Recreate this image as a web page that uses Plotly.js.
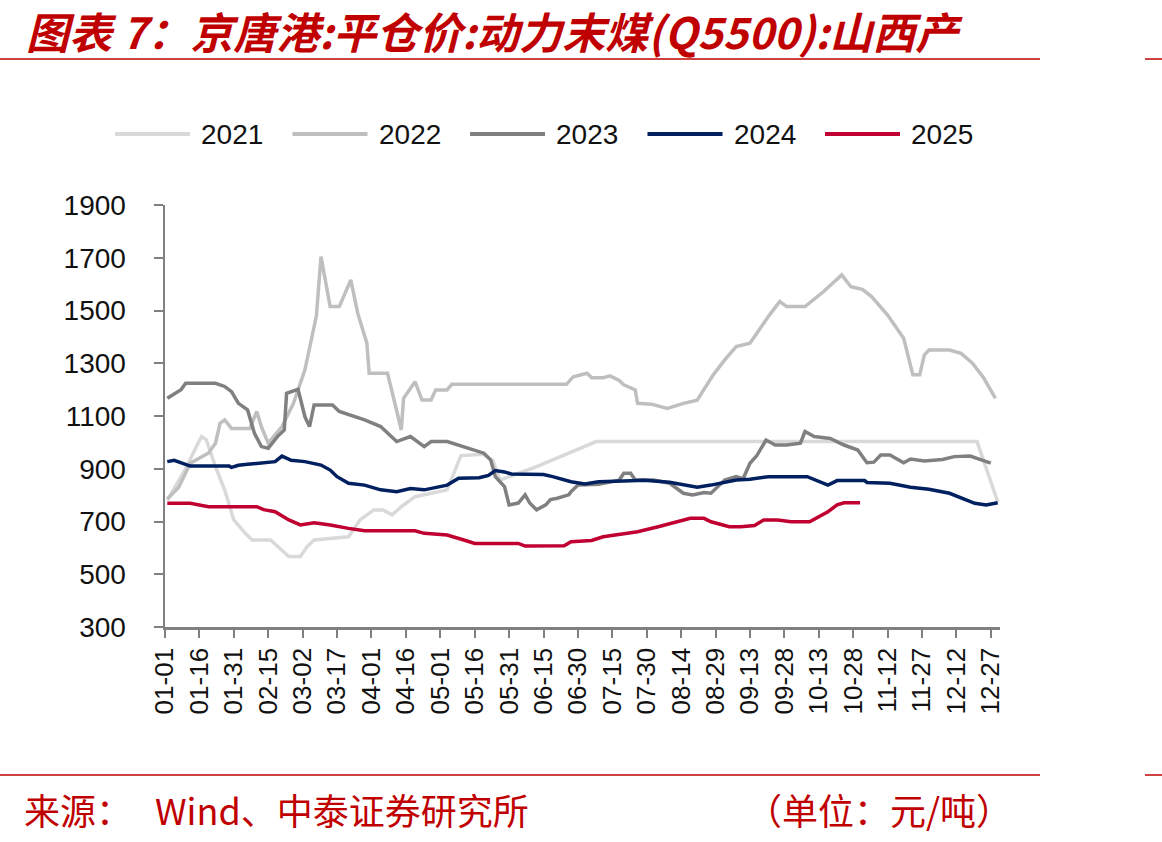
<!DOCTYPE html>
<html>
<head>
<meta charset="utf-8">
<script src="https://cdn.plot.ly/plotly-3.0.1.min.js"></script>
<style>html,body{margin:0;padding:0;background:#fff;}#chart{width:1162px;height:842px;}</style>
</head>
<body>
<div id="chart"></div>
<script>
// ---- data (MM-DD dates, values in 元/吨) ----
const seriesNames = ["2021", "2022", "2023", "2024", "2025"];
const seriesColors = ["#d9d9d9", "#bfbfbf", "#808080", "#002060", "#c00030"];

const dates2021 = ["01-02","01-10","01-15","01-17","01-19","01-23","01-27","01-31","02-05","02-08","02-16","02-21","02-24","03-01","03-04","03-07","03-22","03-27","04-02","04-06","04-10","04-14","04-20","05-04","05-10","05-20","05-24","05-27","06-12","07-08","12-21","12-30"];
const values2021 = [780,900,990,1022,1010,908,820,706,655,630,630,592,567,567,605,630,642,706,744,744,725,756,794,820,950,955,930,857,908,1003,1003,775];

const dates2022 = ["01-02","01-07","01-12","01-20","01-23","01-25","01-27","01-30","02-07","02-10","02-12","02-15","02-21","02-26","03-03","03-06","03-08","03-10","03-14","03-18","03-23","03-26","03-30","03-31","04-08","04-12","04-14","04-15","04-20","04-23","04-27","04-29","05-04","05-06","06-25","06-28","07-04","07-06","07-11","07-14","07-18","07-20","07-25","07-26","08-01","08-08","08-15","08-21","08-24","08-28","09-02","09-07","09-13","09-21","09-26","09-29","10-07","10-15","10-23","10-27","11-01","11-05","11-12","11-19","11-23","11-26","11-28","11-30","12-09","12-14","12-19","12-24","12-29"];
const values2022 = [785,830,921,960,997,1072,1085,1053,1053,1117,1060,997,1060,1148,1275,1401,1480,1704,1515,1515,1616,1490,1376,1262,1262,1120,1047,1167,1230,1161,1161,1199,1199,1220,1220,1249,1262,1245,1245,1252,1235,1218,1199,1148,1145,1129,1148,1160,1199,1256,1313,1363,1376,1477,1534,1515,1515,1571,1635,1590,1580,1553,1483,1395,1256,1256,1331,1350,1350,1338,1300,1243,1167];

const dates2023 = ["01-02","01-05","01-08","01-10","01-23","01-27","01-30","02-02","02-06","02-09","02-12","02-15","02-19","02-22","02-23","02-28","03-03","03-05","03-07","03-15","03-18","03-29","04-05","04-12","04-18","04-24","04-27","05-04","05-09","05-20","05-23","05-25","05-29","05-31","06-04","06-07","06-09","06-12","06-16","06-18","06-21","06-26","06-27","06-30","07-09","07-18","07-20","07-23","07-25","08-02","08-09","08-15","08-19","08-24","08-27","09-02","09-07","09-10","09-13","09-16","09-20","09-24","09-29","10-05","10-07","10-11","10-18","10-24","10-30","11-03","11-06","11-09","11-13","11-19","11-22","11-28","12-06","12-11","12-18","12-22","12-27"];
const values2023 = [1167,1185,1200,1224,1224,1212,1192,1148,1123,1034,984,978,1022,1047,1186,1201,1097,1060,1142,1142,1117,1085,1060,1003,1022,984,1003,1003,990,959,933,870,832,763,770,801,770,744,763,783,788,801,813,838,841,857,883,883,857,857,845,807,801,810,807,857,870,862,921,950,1009,990,990,997,1041,1022,1015,990,971,923,925,952,952,923,937,929,935,946,948,937,921];

const dates2024 = ["01-02","01-05","01-12","01-29","01-30","02-02","02-06","02-18","02-21","02-25","03-03","03-10","03-14","03-17","03-22","03-29","04-05","04-12","04-18","04-24","05-04","05-09","05-18","05-22","05-25","05-29","06-01","06-15","06-19","06-27","07-03","07-09","07-20","07-29","08-09","08-15","08-21","08-27","09-02","09-07","09-13","09-21","10-08","10-11","10-17","10-21","11-02","11-03","11-13","11-22","11-30","12-09","12-15","12-20","12-25","12-30"];
const values2024 = [927,932,910,910,905,913,917,927,948,932,927,914,895,870,845,838,820,813,825,820,838,864,866,875,893,888,880,878,870,851,842,851,854,856,849,838,830,838,849,857,860,870,870,860,838,855,855,848,845,830,822,807,788,769,763,771];

const dates2025 = ["01-02","01-12","01-20","02-10","02-13","02-18","02-24","03-01","03-07","03-14","03-22","03-29","04-20","04-24","05-04","05-07","05-12","05-16","06-04","06-07","06-24","06-27","07-06","07-11","07-26","08-04","08-12","08-18","08-24","08-27","09-04","09-09","09-15","09-19","09-25","10-01","10-09","10-14","10-17","10-21","10-24","10-31"];
const values2025 = [769,769,756,756,745,737,706,687,695,687,674,665,665,655,649,642,628,617,617,607,608,623,628,642,661,680,699,712,712,699,680,680,685,706,706,699,699,721,737,763,771,771];

const yTickValues = [300, 500, 700, 900, 1100, 1300, 1500, 1700, 1900];

const titleText = "图表 7：京唐港:平仓价:动力末煤(Q5500):山西产";
const sourceLabel = "来源：";
const sourceText = "Wind、中泰证券研究所";
const unitText = "（单位：元/吨）";

// ---- build ----
const allDates = [dates2021, dates2022, dates2023, dates2024, dates2025];
const allValues = [values2021, values2022, values2023, values2024, values2025];
const baseYear = "2021-"; // common calendar used only to place MM-DD on one axis

const W = 1162, H = 842;
const M = {l: 165, r: 162, t: 205, b: 215};
const PW = W - M.l - M.r, PH = H - M.t - M.b;
const px = x => (x - M.l) / PW;
const py = y => (H - M.b - y) / PH;

const traces = seriesNames.map((name, i) => ({
  type: "scatter",
  mode: "lines",
  name: name,
  x: allDates[i].map(d => baseYear + d),
  y: allValues[i],
  line: {color: seriesColors[i], width: 3.5},
  hoverinfo: "skip"
}));

const red = "#c00000";
const shapes = [
  {type: "line", xref: "paper", yref: "paper", x0: px(0), x1: px(1040), y0: py(59), y1: py(59), line: {color: red, width: 1.5}},
  {type: "line", xref: "paper", yref: "paper", x0: px(1145), x1: px(1162), y0: py(59), y1: py(59), line: {color: red, width: 1.5}},
  {type: "line", xref: "paper", yref: "paper", x0: px(0), x1: px(1040), y0: py(775), y1: py(775), line: {color: red, width: 1.5}},
  {type: "line", xref: "paper", yref: "paper", x0: px(1145), x1: px(1162), y0: py(775), y1: py(775), line: {color: red, width: 1.5}}
];
const annotations = [
  {xref: "paper", yref: "paper", x: px(24), y: py(30), xanchor: "left", yanchor: "middle", showarrow: false,
   text: titleText, font: {family: "Noto Sans CJK SC", size: 43, color: red, weight: 700, style: "italic"}},
  {xref: "paper", yref: "paper", x: px(22), y: py(809), xanchor: "left", yanchor: "middle", showarrow: false,
   text: sourceLabel, font: {family: "Noto Sans CJK SC", size: 36, color: red}},
  {xref: "paper", yref: "paper", x: px(153), y: py(809), xanchor: "left", yanchor: "middle", showarrow: false,
   text: sourceText, font: {family: "Noto Sans CJK SC", size: 36, color: red}},
  {xref: "paper", yref: "paper", x: px(1014), y: py(809), xanchor: "right", yanchor: "middle", showarrow: false,
   text: unitText, font: {family: "Noto Sans CJK SC", size: 36, color: red}}
];
// custom legend (long line samples like the original)
seriesNames.forEach((name, i) => {
  const x0 = 115 + 177.5 * i;
  shapes.push({type: "line", xref: "paper", yref: "paper", x0: px(x0), x1: px(x0 + 75), y0: py(134), y1: py(134),
    line: {color: seriesColors[i], width: 4}});
  annotations.push({xref: "paper", yref: "paper", x: px(x0 + 84), y: py(134), xanchor: "left", yanchor: "middle",
    showarrow: false, text: name, font: {family: "Liberation Sans, Arial", size: 28, color: "#111"}});
});

const axisColor = "#808080";
const layout = {
  width: W, height: H,
  margin: M,
  paper_bgcolor: "#fff", plot_bgcolor: "#fff",
  showlegend: false,
  xaxis: {
    type: "date",
    range: [baseYear + "01-01", baseYear + "12-31"],
    tick0: baseYear + "01-01",
    dtick: 15 * 86400000,
    tickformat: "%m-%d",
    tickangle: -90,
    ticks: "outside", ticklen: 8, tickwidth: 2, tickcolor: axisColor,
    showline: true, linecolor: axisColor, linewidth: 2.5,
    showgrid: false, zeroline: false,
    tickfont: {family: "Liberation Sans, Arial", size: 26, color: "#111"}
  },
  yaxis: {
    range: [300, 1900],
    tickvals: yTickValues,
    ticktext: yTickValues.map(String),
    ticks: "outside", ticklen: 9, tickwidth: 2, tickcolor: axisColor,
    showline: true, linecolor: axisColor, linewidth: 2.5,
    showgrid: false, zeroline: false,
    ticklabelstandoff: 22,
    tickfont: {family: "Liberation Sans, Arial", size: 28, color: "#111"}
  },
  shapes: shapes,
  annotations: annotations
};

Plotly.newPlot("chart", traces, layout, {staticPlot: true, displayModeBar: false});
</script>
</body>
</html>
